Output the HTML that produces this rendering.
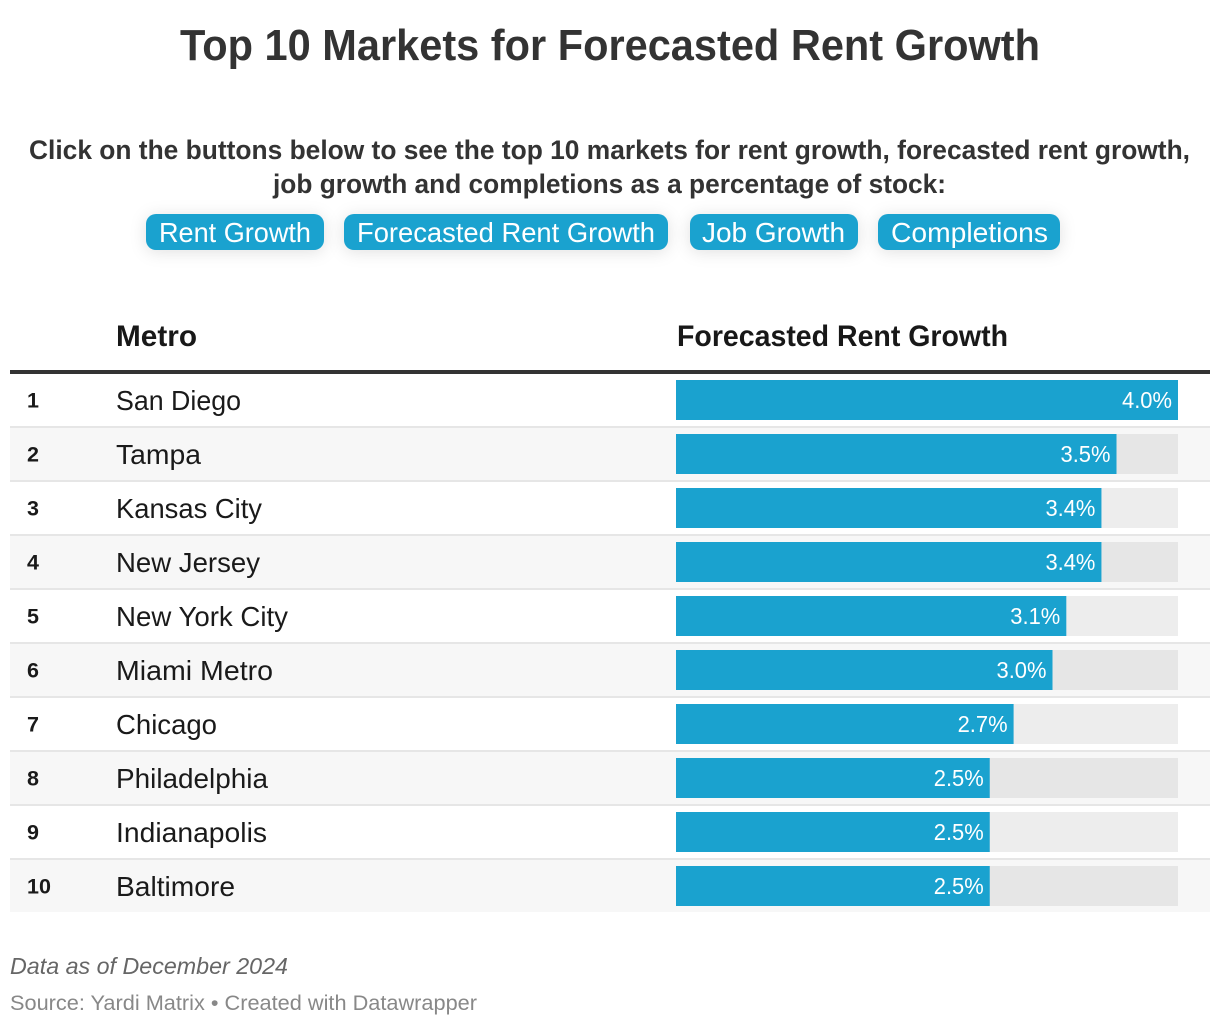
<!DOCTYPE html>
<html lang="en">
<head>
<meta charset="utf-8">
<title>Top 10 Markets for Forecasted Rent Growth</title>
<style>
  html, body { margin: 0; padding: 0; background: #fff; }
  body { width: 1220px; height: 1026px; overflow: hidden; }
  svg { display: block; font-family: "Liberation Sans", Arial, sans-serif; }
  .btn-bg { fill: #1aa2cf; filter: drop-shadow(0 2px 8px rgba(0,0,0,.12)); }
  .btn-label { fill: #fff; font-size: 27.5px; }
  .rank { fill: #1a1a1a; font-size: 21.5px; font-weight: bold; }
  .metro { fill: #1a1a1a; font-size: 28px; }
  .value { fill: #fff; font-size: 23.5px; }
  .head { fill: #181818; font-size: 30px; font-weight: bold; }
</style>
</head>
<body>
<svg id="chart" width="1220" height="1026" viewBox="0 0 1220 1026" xmlns="http://www.w3.org/2000/svg">
  <text x="180" y="60" font-size="44" font-weight="bold" fill="#333" textLength="860" lengthAdjust="spacingAndGlyphs">Top 10 Markets for Forecasted Rent Growth</text>
  <text x="29" y="159" font-size="27" font-weight="bold" fill="#333" textLength="1161" lengthAdjust="spacingAndGlyphs">Click on the buttons below to see the top 10 markets for rent growth, forecasted rent growth,</text>
  <text x="273" y="193" font-size="27" font-weight="bold" fill="#333" textLength="673" lengthAdjust="spacingAndGlyphs">job growth and completions as a percentage of stock:</text>

  <g>
    <rect class="btn-bg" x="146" y="214" width="178" height="36" rx="10"/>
    <text class="btn-label" x="159" y="242" textLength="152" lengthAdjust="spacingAndGlyphs">Rent Growth</text>
  </g>
  <g>
    <rect class="btn-bg" x="344" y="214" width="324" height="36" rx="10"/>
    <text class="btn-label" x="357" y="242" textLength="298" lengthAdjust="spacingAndGlyphs">Forecasted Rent Growth</text>
  </g>
  <g>
    <rect class="btn-bg" x="690" y="214" width="168" height="36" rx="10"/>
    <text class="btn-label" x="702" y="242" textLength="143" lengthAdjust="spacingAndGlyphs">Job Growth</text>
  </g>
  <g>
    <rect class="btn-bg" x="878" y="214" width="182" height="36" rx="10"/>
    <text class="btn-label" x="891" y="242" textLength="157" lengthAdjust="spacingAndGlyphs">Completions</text>
  </g>

  <text class="head" x="116" y="346" textLength="81" lengthAdjust="spacingAndGlyphs">Metro</text>
  <text class="head" x="677" y="346" textLength="331" lengthAdjust="spacingAndGlyphs">Forecasted Rent Growth</text>
  <rect x="10" y="370" width="1200" height="4" fill="#333"/>

  <g id="rows"></g>
  <g id="bars"></g>

  <g>
    <text class="metro" x="116" y="410" textLength="125" lengthAdjust="spacingAndGlyphs">San Diego</text>
    <text class="metro" x="116" y="464" textLength="85" lengthAdjust="spacingAndGlyphs">Tampa</text>
    <text class="metro" x="116" y="518" textLength="146" lengthAdjust="spacingAndGlyphs">Kansas City</text>
    <text class="metro" x="116" y="572" textLength="144" lengthAdjust="spacingAndGlyphs">New Jersey</text>
    <text class="metro" x="116" y="626" textLength="172" lengthAdjust="spacingAndGlyphs">New York City</text>
    <text class="metro" x="116" y="680" textLength="157" lengthAdjust="spacingAndGlyphs">Miami Metro</text>
    <text class="metro" x="116" y="734" textLength="101" lengthAdjust="spacingAndGlyphs">Chicago</text>
    <text class="metro" x="116" y="788" textLength="152" lengthAdjust="spacingAndGlyphs">Philadelphia</text>
    <text class="metro" x="116" y="842" textLength="151" lengthAdjust="spacingAndGlyphs">Indianapolis</text>
    <text class="metro" x="116" y="896" textLength="119" lengthAdjust="spacingAndGlyphs">Baltimore</text>
  </g>

  <text x="10" y="974" font-size="23" font-style="italic" fill="#666" textLength="278" lengthAdjust="spacingAndGlyphs">Data as of December 2024</text>
  <text x="10" y="1010" font-size="21.5" fill="#888" textLength="467" lengthAdjust="spacingAndGlyphs">Source: Yardi Matrix • Created with Datawrapper</text>
</svg>

<script>
const ranks = [1, 2, 3, 4, 5, 6, 7, 8, 9, 10];
const metros = ["San Diego", "Tampa", "Kansas City", "New Jersey", "New York City", "Miami Metro", "Chicago", "Philadelphia", "Indianapolis", "Baltimore"];
const forecastGrowth = [4.0, 3.51, 3.39, 3.39, 3.11, 3.0, 2.69, 2.5, 2.5, 2.5];
const domainMax = 4.0;

const NS = "http://www.w3.org/2000/svg";
const barLeft = 676, barMaxWidth = 502, rowTop = 374, rowStep = 54;

function xScale(v) { return barMaxWidth * v / domainMax; }
function rowY(i) { return rowTop + i * rowStep; }
function slug(s) { return s.toLowerCase().replace(/\s+/g, "-"); }
function make(tag, attrs, parent) {
  const el = document.createElementNS(NS, tag);
  for (const k in attrs) el.setAttribute(k, attrs[k]);
  parent.appendChild(el);
  return el;
}

const rowsG = document.getElementById("rows");
const barsG = document.getElementById("bars");

metros.forEach(function (metro, i) {
  const y = rowY(i);
  const key = slug(metro);
  const even = i % 2 === 1;

  if (even) {
    const bg = make("rect", { x: 10, y: y, width: 1200, height: 52, fill: "#f7f7f7" }, rowsG);
    
    
  }
  if (i < metros.length - 1) {
    const sep = make("rect", { x: 10, y: y + 52, width: 1200, height: 2, fill: "#e6e6e6" }, rowsG);
    
    
  }

  const rank = make("text", { class: "rank", x: 27, y: y + 33.5 }, rowsG);
  rank.textContent = ranks[i];
  
  

  const track = make("rect", { x: barLeft, y: y + 6, width: barMaxWidth, height: 40, fill: even ? "#e6e6e6" : "#ededed" }, barsG);
  
  

  const w = xScale(forecastGrowth[i]);
  const bar = make("rect", { x: barLeft, y: y + 6, width: w, height: 40, fill: "#1aa2cf" }, barsG);
  
  

  const label = make("text", { class: "value", x: barLeft + w - 6, y: y + 34, "text-anchor": "end", textLength: 50, lengthAdjust: "spacingAndGlyphs" }, barsG);
  label.textContent = forecastGrowth[i].toFixed(1) + "%";
  
  
});
</script>
</body>
</html>
